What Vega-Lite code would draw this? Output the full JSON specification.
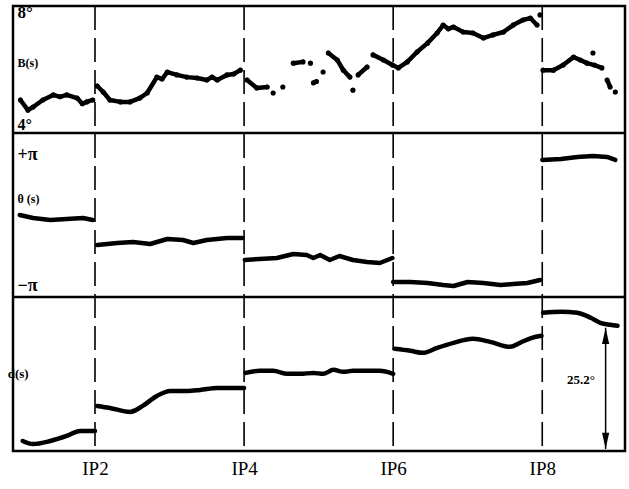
{
  "$schema": "https://vega.github.io/schema/vega-lite/v6.json",
  "background": "white",
  "autosize": {"type": "none"},
  "padding": {"left": 13, "top": 6, "right": 4, "bottom": 38},
  "width": 612,
  "height": 445,
  "config": {
    "view": {"stroke": "black", "strokeWidth": 2.5},
    "text": {"font": "Liberation Serif", "fontWeight": "bold", "color": "black"}
  },
  "resolve": {"scale": {"y": "independent"}, "axis": {"y": "independent"}},
  "datasets": {
    "ips": [{"ip": 2}, {"ip": 4}, {"ip": 6}, {"ip": 8}],
    "B": [
      {"s": 1.00, "v": 5.04, "seg": 1}, {"s": 1.10, "v": 4.72, "seg": 1}, {"s": 1.17, "v": 4.82, "seg": 1}, {"s": 1.30, "v": 5.04, "seg": 1}, {"s": 1.44, "v": 5.20, "seg": 1}, {"s": 1.53, "v": 5.14, "seg": 1}, {"s": 1.62, "v": 5.20, "seg": 1}, {"s": 1.76, "v": 5.10, "seg": 1}, {"s": 1.83, "v": 4.92, "seg": 1}, {"s": 1.89, "v": 4.98, "seg": 1}, {"s": 1.97, "v": 5.04, "seg": 1},
      {"s": 2.03, "v": 5.48, "seg": 2}, {"s": 2.11, "v": 5.29, "seg": 2}, {"s": 2.20, "v": 5.04, "seg": 2}, {"s": 2.34, "v": 4.98, "seg": 2}, {"s": 2.47, "v": 4.98, "seg": 2}, {"s": 2.60, "v": 5.10, "seg": 2}, {"s": 2.70, "v": 5.26, "seg": 2}, {"s": 2.83, "v": 5.76, "seg": 2}, {"s": 2.90, "v": 5.70, "seg": 2}, {"s": 2.97, "v": 5.92, "seg": 2}, {"s": 3.10, "v": 5.83, "seg": 2}, {"s": 3.23, "v": 5.76, "seg": 2}, {"s": 3.37, "v": 5.73, "seg": 2}, {"s": 3.50, "v": 5.67, "seg": 2}, {"s": 3.57, "v": 5.76, "seg": 2}, {"s": 3.64, "v": 5.67, "seg": 2}, {"s": 3.77, "v": 5.83, "seg": 2}, {"s": 3.86, "v": 5.86, "seg": 2}, {"s": 3.95, "v": 5.98, "seg": 2},
      {"s": 4.04, "v": 5.67, "seg": 3}, {"s": 4.17, "v": 5.42, "seg": 3}, {"s": 4.31, "v": 5.45, "seg": 3},
      {"s": 4.39, "v": 5.26, "seg": 4},
      {"s": 4.52, "v": 5.45, "seg": 5},
      {"s": 4.66, "v": 6.20, "seg": 6}, {"s": 4.79, "v": 6.24, "seg": 6},
      {"s": 4.89, "v": 6.20, "seg": 7},
      {"s": 4.93, "v": 5.58, "seg": 8}, {"s": 4.97, "v": 5.62, "seg": 8},
      {"s": 5.06, "v": 5.92, "seg": 9},
      {"s": 5.13, "v": 6.52, "seg": 10}, {"s": 5.25, "v": 6.30, "seg": 10}, {"s": 5.33, "v": 5.98, "seg": 10}, {"s": 5.42, "v": 5.76, "seg": 10},
      {"s": 5.46, "v": 5.35, "seg": 11},
      {"s": 5.53, "v": 5.83, "seg": 12}, {"s": 5.65, "v": 6.08, "seg": 12},
      {"s": 5.73, "v": 6.46, "seg": 13}, {"s": 5.87, "v": 6.30, "seg": 13}, {"s": 5.99, "v": 6.14, "seg": 13}, {"s": 6.07, "v": 6.05, "seg": 13}, {"s": 6.19, "v": 6.24, "seg": 13}, {"s": 6.32, "v": 6.55, "seg": 13}, {"s": 6.46, "v": 6.83, "seg": 13}, {"s": 6.59, "v": 7.15, "seg": 13}, {"s": 6.67, "v": 7.40, "seg": 13}, {"s": 6.74, "v": 7.28, "seg": 13}, {"s": 6.81, "v": 7.34, "seg": 13}, {"s": 6.94, "v": 7.18, "seg": 13}, {"s": 7.07, "v": 7.15, "seg": 13}, {"s": 7.21, "v": 6.99, "seg": 13}, {"s": 7.34, "v": 7.09, "seg": 13}, {"s": 7.48, "v": 7.18, "seg": 13}, {"s": 7.61, "v": 7.40, "seg": 13}, {"s": 7.74, "v": 7.56, "seg": 13}, {"s": 7.84, "v": 7.62, "seg": 13}, {"s": 7.93, "v": 7.40, "seg": 13},
      {"s": 7.97, "v": 7.72, "seg": 14},
      {"s": 8.01, "v": 5.98, "seg": 15}, {"s": 8.15, "v": 5.98, "seg": 15}, {"s": 8.28, "v": 6.14, "seg": 15}, {"s": 8.42, "v": 6.39, "seg": 15}, {"s": 8.51, "v": 6.30, "seg": 15}, {"s": 8.60, "v": 6.20, "seg": 15}, {"s": 8.70, "v": 6.14, "seg": 15}, {"s": 8.80, "v": 6.05, "seg": 15},
      {"s": 8.68, "v": 6.52, "seg": 16},
      {"s": 8.87, "v": 5.67, "seg": 17}, {"s": 8.91, "v": 5.45, "seg": 17},
      {"s": 8.98, "v": 5.29, "seg": 18}
    ],
    "theta": [
      {"s": 0.99, "v": 0.116, "seg": 1}, {"s": 1.17, "v": -0.023, "seg": 1}, {"s": 1.40, "v": -0.116, "seg": 1}, {"s": 1.62, "v": -0.070, "seg": 1}, {"s": 1.84, "v": -0.023, "seg": 1}, {"s": 1.97, "v": -0.116, "seg": 1},
      {"s": 2.03, "v": -1.280, "seg": 2}, {"s": 2.30, "v": -1.186, "seg": 2}, {"s": 2.51, "v": -1.140, "seg": 2}, {"s": 2.74, "v": -1.233, "seg": 2}, {"s": 2.97, "v": -1.000, "seg": 2}, {"s": 3.18, "v": -1.047, "seg": 2}, {"s": 3.32, "v": -1.186, "seg": 2}, {"s": 3.50, "v": -1.047, "seg": 2}, {"s": 3.77, "v": -0.954, "seg": 2}, {"s": 3.98, "v": -0.954, "seg": 2},
      {"s": 4.01, "v": -1.978, "seg": 3}, {"s": 4.21, "v": -1.931, "seg": 3}, {"s": 4.44, "v": -1.885, "seg": 3}, {"s": 4.66, "v": -1.698, "seg": 3}, {"s": 4.84, "v": -1.745, "seg": 3}, {"s": 4.93, "v": -1.885, "seg": 3}, {"s": 5.02, "v": -1.745, "seg": 3}, {"s": 5.15, "v": -1.978, "seg": 3}, {"s": 5.28, "v": -1.792, "seg": 3}, {"s": 5.46, "v": -1.978, "seg": 3}, {"s": 5.65, "v": -2.071, "seg": 3}, {"s": 5.82, "v": -2.117, "seg": 3}, {"s": 5.99, "v": -1.885, "seg": 3},
      {"s": 6.00, "v": -3.002, "seg": 4}, {"s": 6.23, "v": -3.002, "seg": 4}, {"s": 6.46, "v": -3.048, "seg": 4}, {"s": 6.67, "v": -3.142, "seg": 4}, {"s": 6.81, "v": -3.188, "seg": 4}, {"s": 7.00, "v": -3.002, "seg": 4}, {"s": 7.21, "v": -3.048, "seg": 4}, {"s": 7.44, "v": -3.142, "seg": 4}, {"s": 7.61, "v": -3.095, "seg": 4}, {"s": 7.80, "v": -3.048, "seg": 4}, {"s": 7.97, "v": -2.909, "seg": 4},
      {"s": 8.00, "v": 2.676, "seg": 5}, {"s": 8.25, "v": 2.723, "seg": 5}, {"s": 8.47, "v": 2.816, "seg": 5}, {"s": 8.68, "v": 2.862, "seg": 5}, {"s": 8.87, "v": 2.816, "seg": 5}, {"s": 8.98, "v": 2.676, "seg": 5}
    ],
    "d": [
      {"s": 1.03, "v": 2.05, "seg": 1}, {"s": 1.17, "v": 1.43, "seg": 1}, {"s": 1.40, "v": 2.05, "seg": 1}, {"s": 1.62, "v": 3.07, "seg": 1}, {"s": 1.80, "v": 4.10, "seg": 1}, {"s": 2.00, "v": 4.10, "seg": 1},
      {"s": 2.03, "v": 9.22, "seg": 2}, {"s": 2.20, "v": 8.81, "seg": 2}, {"s": 2.47, "v": 7.99, "seg": 2}, {"s": 2.64, "v": 9.22, "seg": 2}, {"s": 2.83, "v": 11.27, "seg": 2}, {"s": 3.01, "v": 12.29, "seg": 2}, {"s": 3.23, "v": 12.29, "seg": 2}, {"s": 3.41, "v": 12.50, "seg": 2}, {"s": 3.64, "v": 12.91, "seg": 2}, {"s": 3.85, "v": 12.91, "seg": 2}, {"s": 4.00, "v": 12.91, "seg": 2},
      {"s": 4.02, "v": 15.98, "seg": 3}, {"s": 4.21, "v": 16.39, "seg": 3}, {"s": 4.39, "v": 16.39, "seg": 3}, {"s": 4.58, "v": 15.78, "seg": 3}, {"s": 4.75, "v": 15.78, "seg": 3}, {"s": 4.93, "v": 15.98, "seg": 3}, {"s": 5.06, "v": 15.78, "seg": 3}, {"s": 5.20, "v": 16.60, "seg": 3}, {"s": 5.33, "v": 16.19, "seg": 3}, {"s": 5.46, "v": 16.39, "seg": 3}, {"s": 5.64, "v": 16.39, "seg": 3}, {"s": 5.82, "v": 16.39, "seg": 3}, {"s": 6.00, "v": 15.78, "seg": 3},
      {"s": 6.02, "v": 20.90, "seg": 4}, {"s": 6.23, "v": 20.49, "seg": 4}, {"s": 6.40, "v": 20.08, "seg": 4}, {"s": 6.59, "v": 21.10, "seg": 4}, {"s": 6.81, "v": 22.13, "seg": 4}, {"s": 7.07, "v": 22.95, "seg": 4}, {"s": 7.30, "v": 22.33, "seg": 4}, {"s": 7.57, "v": 21.31, "seg": 4}, {"s": 7.70, "v": 22.13, "seg": 4}, {"s": 7.86, "v": 23.15, "seg": 4}, {"s": 7.99, "v": 23.56, "seg": 4},
      {"s": 8.01, "v": 28.28, "seg": 5}, {"s": 8.25, "v": 28.48, "seg": 5}, {"s": 8.47, "v": 28.28, "seg": 5}, {"s": 8.65, "v": 27.25, "seg": 5}, {"s": 8.78, "v": 26.23, "seg": 5}, {"s": 8.91, "v": 25.82, "seg": 5}, {"s": 9.01, "v": 25.61, "seg": 5}
    ]
  },
  "layer": [
    {
      "data": {"name": "ips"},
      "mark": {"type": "rule", "color": "black", "strokeWidth": 1.6, "strokeDash": [24, 8]},
      "encoding": {"x": {"field": "ip", "type": "quantitative", "scale": {"domain": [0.9, 9.11], "nice": false, "zero": false},
        "axis": {"values": [2, 4, 6, 8], "labelExpr": "'IP' + datum.value", "labelFont": "Liberation Serif", "labelFontSize": 19, "labelColor": "black", "ticks": false, "domain": false, "grid": false, "labelPadding": 8, "title": null, "labelFlush": false}}}
    },
    {
      "data": {"values": [{"k": 1}]},
      "mark": {"type": "rule", "color": "black", "strokeWidth": 2.5},
      "encoding": {"y": {"datum": 4, "type": "quantitative", "scale": {"domain": [4, 8], "range": [127, 0], "nice": false, "zero": false}, "axis": null}}
    },
    {
      "data": {"values": [{"k": 1}]},
      "mark": {"type": "rule", "color": "black", "strokeWidth": 2.5},
      "encoding": {"y": {"datum": -3.7, "type": "quantitative", "scale": {"domain": [-3.7, 3.93], "range": [291, 127], "nice": false, "zero": false}, "axis": null}}
    },
    {
      "data": {"name": "B"},
      "mark": {"type": "line", "color": "black", "strokeWidth": 4.5, "strokeCap": "round", "strokeJoin": "round"},
      "encoding": {
        "x": {"field": "s", "type": "quantitative"},
        "y": {"field": "v", "type": "quantitative", "scale": {"domain": [4, 8], "range": [127, 0], "nice": false, "zero": false}, "axis": null},
        "detail": {"field": "seg", "type": "nominal"}
      }
    },
    {
      "data": {"name": "B"},
      "mark": {"type": "circle", "color": "black", "size": 26, "opacity": 1},
      "encoding": {
        "x": {"field": "s", "type": "quantitative"},
        "y": {"field": "v", "type": "quantitative", "scale": {"domain": [4, 8], "range": [127, 0], "nice": false, "zero": false}, "axis": null}
      }
    },
    {
      "data": {"values": [{"s": 0.96, "v": 7.78, "t": "8°", "fs": 17}, {"s": 0.96, "v": 6.2, "t": "B(s)", "fs": 12}, {"s": 0.96, "v": 4.25, "t": "4°", "fs": 16}]},
      "mark": {"type": "text", "align": "left", "baseline": "middle"},
      "encoding": {
        "x": {"field": "s", "type": "quantitative"},
        "y": {"field": "v", "type": "quantitative", "scale": {"domain": [4, 8], "range": [127, 0], "nice": false, "zero": false}, "axis": null},
        "text": {"field": "t"},
        "size": {"field": "fs", "type": "quantitative", "scale": null}
      }
    },
    {
      "data": {"name": "theta"},
      "mark": {"type": "line", "color": "black", "strokeWidth": 4.5, "strokeCap": "round", "strokeJoin": "round"},
      "encoding": {
        "x": {"field": "s", "type": "quantitative"},
        "y": {"field": "v", "type": "quantitative", "scale": {"domain": [-3.7, 3.93], "range": [291, 127], "nice": false, "zero": false}, "axis": null},
        "detail": {"field": "seg", "type": "nominal"}
      }
    },
    {
      "data": {"values": [{"s": 0.96, "v": 2.91, "t": "+π", "fs": 18}, {"s": 0.96, "v": 0.86, "t": "θ (s)", "fs": 12}, {"s": 0.96, "v": -3.2, "t": "−π", "fs": 18}]},
      "mark": {"type": "text", "align": "left", "baseline": "middle"},
      "encoding": {
        "x": {"field": "s", "type": "quantitative"},
        "y": {"field": "v", "type": "quantitative", "scale": {"domain": [-3.7, 3.93], "range": [291, 127], "nice": false, "zero": false}, "axis": null},
        "text": {"field": "t"},
        "size": {"field": "fs", "type": "quantitative", "scale": null}
      }
    },
    {
      "data": {"name": "d"},
      "mark": {"type": "line", "color": "black", "strokeWidth": 4.5, "strokeCap": "round", "strokeJoin": "round", "interpolate": "monotone"},
      "encoding": {
        "x": {"field": "s", "type": "quantitative"},
        "y": {"field": "v", "type": "quantitative", "scale": {"domain": [0, 31.5], "range": [445, 291], "nice": false, "zero": false}, "axis": null},
        "detail": {"field": "seg", "type": "nominal"}
      }
    },
    {
      "data": {"values": [{"s": 8.85, "lo": 0.4, "hi": 25.2}]},
      "mark": {"type": "rule", "color": "black", "strokeWidth": 1.5},
      "encoding": {
        "x": {"field": "s", "type": "quantitative"},
        "y": {"field": "lo", "type": "quantitative", "scale": {"domain": [0, 31.5], "range": [445, 291], "nice": false, "zero": false}, "axis": null},
        "y2": {"field": "hi"}
      }
    },
    {
      "data": {"values": [{"s": 8.85, "v": 23.5, "dir": "up"}, {"s": 8.85, "v": 2.1, "dir": "down"}]},
      "mark": {"type": "point", "filled": true, "color": "black", "opacity": 1, "size": 256},
      "encoding": {
        "x": {"field": "s", "type": "quantitative"},
        "y": {"field": "v", "type": "quantitative", "scale": {"domain": [0, 31.5], "range": [445, 291], "nice": false, "zero": false}, "axis": null},
        "shape": {"field": "dir", "type": "nominal", "scale": {"domain": ["up", "down"], "range": ["M0,-1L0.45,1L-0.45,1Z", "M0,1L0.45,-1L-0.45,-1Z"]}, "legend": null}
      }
    },
    {
      "data": {"values": [{"s": 0.97, "v": 15.8, "t": "d(s)", "fs": 13, "al": "left"}, {"s": 8.52, "v": 14.5, "t": "25.2°", "fs": 13, "al": "center"}]},
      "mark": {"type": "text", "baseline": "middle"},
      "encoding": {
        "x": {"field": "s", "type": "quantitative"},
        "y": {"field": "v", "type": "quantitative", "scale": {"domain": [0, 31.5], "range": [445, 291], "nice": false, "zero": false}, "axis": null},
        "text": {"field": "t"},
        "size": {"field": "fs", "type": "quantitative", "scale": null},
        "align": {"field": "al", "type": "nominal", "scale": null}
      }
    }
  ]
}
